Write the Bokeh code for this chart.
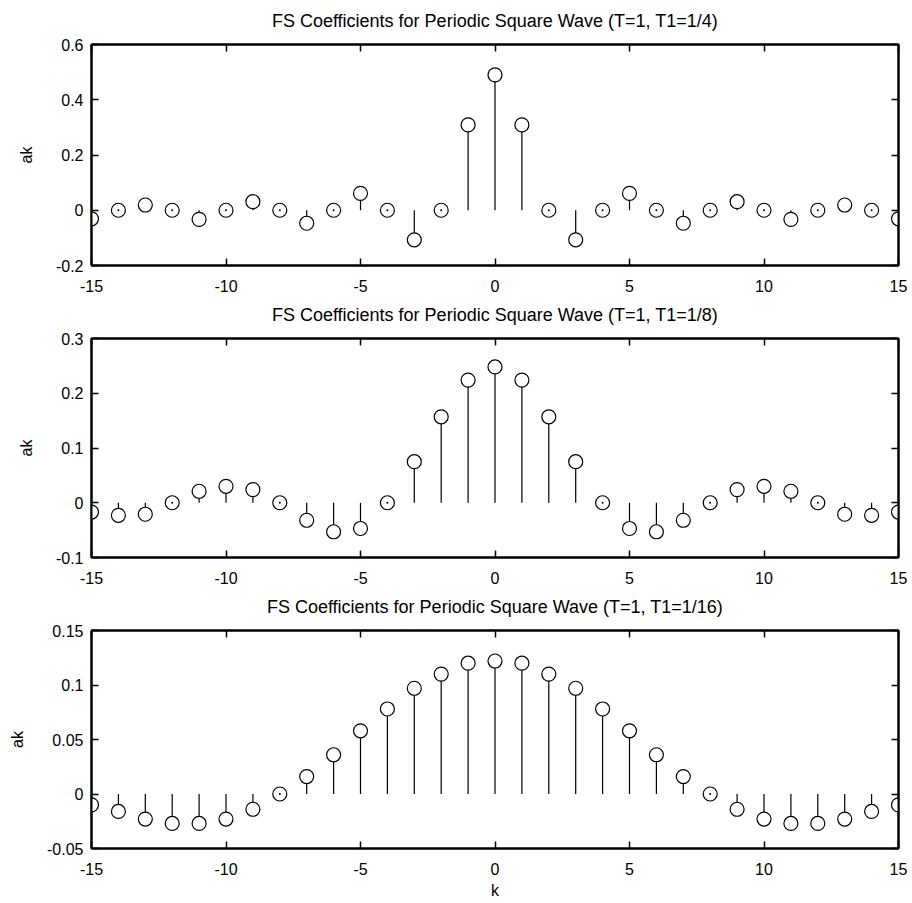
from bokeh.plotting import figure
from bokeh.layouts import column
from bokeh.models import Range1d, FixedTicker, LinearAxis, ColumnDataSource
from bokeh.embed import file_html
from bokeh.resources import INLINE

# ---------------- data ----------------
k = list(range(-15, 16))

ak_T1_quarter = [-0.031, 0.0, 0.019, 0.0, -0.033, 0.0, 0.031, 0.0, -0.047, 0.0, 0.061, 0.0, -0.107, 0.0, 0.309,
                 0.490,
                 0.309, 0.0, -0.107, 0.0, 0.061, 0.0, -0.047, 0.0, 0.031, 0.0, -0.033, 0.0, 0.019, 0.0, -0.031]

ak_T1_eighth = [-0.017, -0.023, -0.021, 0.0, 0.021, 0.030, 0.024, 0.0, -0.032, -0.053, -0.047, 0.0, 0.075, 0.157, 0.224,
                0.248,
                0.224, 0.157, 0.075, 0.0, -0.047, -0.053, -0.032, 0.0, 0.024, 0.030, 0.021, 0.0, -0.021, -0.023, -0.017]

ak_T1_sixteenth = [-0.010, -0.016, -0.023, -0.027, -0.027, -0.023, -0.014, 0.0, 0.016, 0.036, 0.058, 0.078, 0.097, 0.110, 0.120,
                   0.122,
                   0.120, 0.110, 0.097, 0.078, 0.058, 0.036, 0.016, 0.0, -0.014, -0.023, -0.027, -0.027, -0.023, -0.016, -0.010]

titles = ["FS Coefficients for Periodic Square Wave (T=1, T1=1/4)",
          "FS Coefficients for Periodic Square Wave (T=1, T1=1/8)",
          "FS Coefficients for Periodic Square Wave (T=1, T1=1/16)"]

x_ticks = [-15, -10, -5, 0, 5, 10, 15]
x_tick_labels = ["-15", "-10", "-5", "0", "5", "10", "15"]

y_ticks_1 = [-0.2, 0.0, 0.2, 0.4, 0.6]
y_tick_labels_1 = ["-0.2", "0", "0.2", "0.4", "0.6"]
y_ticks_2 = [-0.1, 0.0, 0.1, 0.2, 0.3]
y_tick_labels_2 = ["-0.1", "0", "0.1", "0.2", "0.3"]
y_ticks_3 = [-0.05, 0.0, 0.05, 0.1, 0.15]
y_tick_labels_3 = ["-0.05", "0", "0.05", "0.1", "0.15"]

FONT = "Liberation Sans"


def style_axis(ax, ticks, labels, show_labels=True):
    ax.ticker = FixedTicker(ticks=ticks)
    ax.axis_line_color = "black"
    ax.axis_line_width = 2
    ax.major_tick_line_color = "black"
    ax.major_tick_line_width = 1.5
    ax.major_tick_in = 7
    ax.major_tick_out = 0
    ax.minor_tick_line_color = None
    ax.major_label_text_font = FONT
    if show_labels:
        ax.major_label_overrides = {t: l for t, l in zip(ticks, labels)}
        ax.major_label_text_font_size = "16px"
        ax.major_label_text_color = "black"
    else:
        ax.major_label_text_font_size = "1px"
        ax.major_label_text_color = None
        ax.major_label_standoff = 0


def make_fig(ak, title, y_ticks, y_labels, height, b_top, b_bottom, xlabel=None):
    p = figure(width=912, height=height, output_backend="svg", toolbar_location=None,
               x_range=Range1d(-15, 15), y_range=Range1d(y_ticks[0], y_ticks[-1]),
               min_border_left=91, min_border_right=14, min_border_top=b_top, min_border_bottom=b_bottom)
    p.background_fill_color = "white"
    p.border_fill_color = "white"
    p.outline_line_color = "black"
    p.outline_line_width = 2
    p.grid.visible = False

    style_axis(p.xaxis[0], x_ticks, x_tick_labels)
    p.xaxis[0].major_label_standoff = 14
    style_axis(p.yaxis[0], y_ticks, y_labels)
    p.yaxis[0].major_label_standoff = 8
    p.yaxis[0].axis_label = "ak"
    p.yaxis[0].axis_label_text_font = FONT
    p.yaxis[0].axis_label_text_font_size = "16px"
    p.yaxis[0].axis_label_text_font_style = "normal"
    p.yaxis[0].axis_label_text_color = "black"
    p.yaxis[0].axis_label_standoff = 18
    if xlabel:
        p.xaxis[0].axis_label = xlabel
        p.xaxis[0].axis_label_text_font = FONT
        p.xaxis[0].axis_label_text_font_size = "16px"
        p.xaxis[0].axis_label_text_font_style = "normal"
        p.xaxis[0].axis_label_text_color = "black"
        p.xaxis[0].axis_label_standoff = 4

    # top axis: inward ticks only, with the subplot title as its label
    top_ax = LinearAxis()
    style_axis(top_ax, x_ticks, x_tick_labels, show_labels=False)
    top_ax.axis_label = title
    top_ax.axis_label_text_font = FONT
    top_ax.axis_label_text_font_size = "18px"
    top_ax.axis_label_text_font_style = "normal"
    top_ax.axis_label_text_color = "black"
    top_ax.axis_label_standoff = 14
    p.add_layout(top_ax, "above")
    right_ax = LinearAxis()
    style_axis(right_ax, y_ticks, y_labels, show_labels=False)
    p.add_layout(right_ax, "right")

    src = ColumnDataSource(dict(k=k, ak=ak, base=[0.0] * len(k)))
    p.segment(x0="k", y0="base", x1="k", y1="ak", source=src, line_color="black", line_width=1.2)
    p.scatter(x="k", y="ak", source=src, marker="circle", size=14, fill_color="white",
              line_color="black", line_width=1.2)
    zk = [kk for kk, a in zip(k, ak) if a == 0.0]
    za = [a for a in ak if a == 0.0]
    p.scatter(x=zk, y=za, marker="circle", size=2, fill_color="black", line_color=None)
    return p


p1 = make_fig(ak_T1_quarter, titles[0], y_ticks_1, y_tick_labels_1, 301, 44, 36)
p2 = make_fig(ak_T1_eighth, titles[1], y_ticks_2, y_tick_labels_2, 292, 36, 36)
p3 = make_fig(ak_T1_sixteenth, titles[2], y_ticks_3, y_tick_labels_3, 309, 37, 54, xlabel="k")

layout = column(p1, p2, p3, spacing=0)
open("out.html", "w").write(file_html(layout, INLINE))
